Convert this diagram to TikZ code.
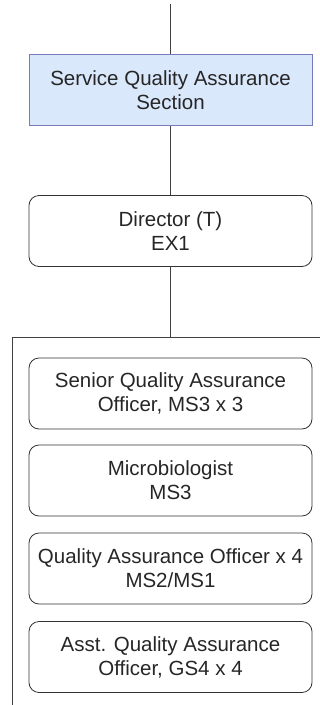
\documentclass[tikz,border=0pt]{standalone}
\usepackage{fontspec}
\setmainfont{Liberation Sans}
\begin{document}
\begin{tikzpicture}[x=1pt,y=-1pt,
  txt/.style={font=\fontsize{20.5}{24}\selectfont, text=black!85, align=center, inner sep=0pt},
  sectbox/.style={txt, draw=blue!30!gray!80, fill={rgb,255:red,218;green,232;blue,252}, minimum width=283pt, minimum height=71pt, line width=0.8pt},
  rolebox/.style={txt, draw=black!80, rounded corners=10pt, minimum width=283pt, minimum height=71pt, line width=0.8pt},
  link/.style={draw=black!75, line width=0.8pt}]
\useasboundingbox (0,0) rectangle (320,705);
\coordinate (top) at (170.5,4);
\node[sectbox] (sqa) at (170.5,90) {Service Quality Assurance\\Section};
\node[rolebox] (dir) at (170.5,231) {Director (T)\\EX1};
\coordinate (ctop) at (170.5,337);
\node[rolebox] (sen) at (170.5,393.5) {Senior Quality Assurance\\Officer, MS3 x 3};
\node[rolebox] (mic) at (170.5,480.5) {Microbiologist\\MS3};
\node[rolebox] (qao) at (170.5,568.5) {Quality Assurance Officer x 4\\MS2/MS1};
\node[rolebox] (asst) at (170.5,657) {Asst. Quality Assurance\\Officer, GS4 x 4};
\draw[link] (top) -- (sqa.north);
\draw[link] (sqa.south) -- (dir.north);
\draw[link] (dir.south) -- (ctop);
\draw[link] (12,705) -- (12,337) -- (320,337);
\end{tikzpicture}
\end{document}
